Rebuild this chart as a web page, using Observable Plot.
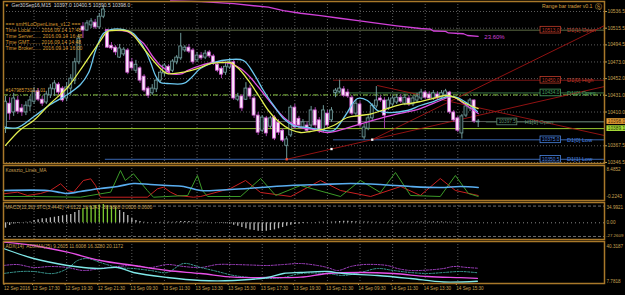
<!DOCTYPE html>
<html><head><meta charset="utf-8">
<script src="https://cdn.jsdelivr.net/npm/d3@7"></script>
<script src="https://cdn.jsdelivr.net/npm/@observablehq/plot@0.6"></script>
<style>
html,body{margin:0;padding:0;background:#000;}
#c{position:relative;width:625px;height:295px;overflow:hidden;background:#000;}
#c svg{position:absolute;left:0;}
</style></head><body><div id="c"></div><script>
// ---------------- DATA ----------------
const symbolHeader = "Ger30Sep16,M15  10397.0 10400.5 10390.5 10398.0";
const infoLines = ["=== smHiLoOpenLines_v1.2 ===","Time Local....... 2016.09.14 17:48","Time Server...... 2016.09.14 16:48","Time GMT........ 2016.09.14 14:48","Time Broker...... 2016.09.14 16:00"];
const orderLabel = "#1479857301 1.01";
const eaLabel = "Range bar trader v0.1";

const open = [10390.5,10420.5,10409.5,10424.5,10414.5,10409.5,10417.0,10423.0,10436.0,10425.5,
10422.0,10431.0,10438.5,10444.5,10439.5,10427.0,10439.5,10449.5,10472.5,10517.5,
10512.5,10519.0,10522.5,10516.5,10530.0,
10513.0,10493.5,10491.0,10478.5,10482.5,10487.5,10472.5,10462.0,10465.0,10454.5,
10439.5,10433.5,10438.5,10449.5,10458.5,10467.0,10462.0,10472.5,10477.5,10487.5,
10491.0,10487.5,10475.0,10481.0,10478.5,10485.0,10480.0,10469.5,10464.5,10459.5,
10466.0,10472.5,10425.5,10429.5,10425.5,10439.5,10427.0,10405.5,10386.5,10402.0,
10391.5,10403.0,10396.5,10386.5,10367.5,10380.5,10415.5,10401.5,10390.5,10393.0,
10393.0,10412.0,10399.5,10386.5,10408.0,10399.5,
10434.0,10435.5,10438.5,10434.5,10428.0,10408.0,10419.5,10378.0,10389.0,10402.0,
10417.0,10427.0,10424.5,10414.5,10419.5,10422.0,10428.0,10420.5,10427.0,10419.5,
10424.5,10427.0,10434.5,10432.0,10427.0,10432.0,10428.0,10431.0,10434.5,10409.5,
10402.0,10383.0,10405.5,10414.5,10424.5,10397.0];
const high = [10429.5,10428.0,10433.5,10429.5,10419.5,10423.0,10429.5,10441.0,10439.5,10429.5,
10436.0,10444.5,10449.5,10447.0,10442.0,10447.0,10457.0,10477.5,10507.5,10522.5,
10525.0,10527.5,10526.5,10534.0,10543.0,
10514.0,10497.5,10493.5,10495.0,10491.0,10490.0,10477.5,10475.0,10467.0,10457.0,
10442.0,10444.5,10452.0,10462.0,10471.0,10469.5,10476.0,10481.0,10509.0,10493.5,
10495.0,10490.0,10485.0,10485.0,10487.5,10487.5,10482.5,10473.5,10467.0,10471.0,
10477.5,10475.0,10433.5,10432.0,10447.0,10443.5,10429.5,10409.5,10405.5,10404.5,
10404.5,10405.5,10400.5,10389.0,10379.0,10418.0,10419.5,10404.5,10400.5,10397.0,
10417.0,10415.5,10403.0,10418.0,10412.0,10415.5,
10439.5,10450.0,10442.0,10438.5,10430.5,10424.5,10423.0,10394.5,10405.5,10420.5,
10442.0,10430.5,10428.0,10428.0,10430.5,10432.0,10432.0,10432.0,10430.5,10430.5,
10433.5,10438.5,10437.0,10435.5,10437.0,10435.5,10437.0,10438.5,10436.0,10412.0,
10404.5,10407.0,10420.5,10427.0,10425.5,10400.5];
const low = [10383.0,10399.5,10404.5,10407.0,10404.5,10405.5,10410.5,10419.5,10423.0,10417.0,
10419.5,10427.0,10429.5,10431.0,10422.0,10423.0,10431.0,10444.5,10469.5,10502.5,
10511.5,10515.0,10514.0,10514.0,10527.5,
10490.0,10487.5,10481.0,10477.5,10480.0,10457.0,10462.0,10458.5,10446.0,10434.5,
10427.0,10431.0,10434.5,10446.0,10454.5,10457.0,10459.5,10469.5,10475.0,10485.0,
10483.5,10469.5,10472.5,10475.0,10476.0,10477.5,10468.5,10459.5,10452.0,10456.0,
10463.5,10424.5,10423.0,10410.5,10424.5,10425.5,10402.0,10380.5,10384.0,10379.0,
10389.0,10374.0,10380.5,10371.5,10350.5,10378.0,10388.0,10389.0,10388.0,10384.0,
10390.5,10389.0,10383.0,10384.0,10389.0,10397.0,
10428.0,10433.5,10428.0,10427.0,10405.5,10404.5,10390.5,10375.0,10386.5,10399.5,
10414.5,10422.0,10389.0,10412.0,10417.0,10419.5,10420.5,10418.0,10417.0,10417.0,
10422.0,10424.5,10425.5,10424.5,10424.5,10425.5,10425.5,10428.0,10407.0,10397.0,
10384.0,10376.0,10403.0,10410.5,10395.5,10390.5];
const close = [10423.0,10408.0,10427.0,10410.5,10409.5,10418.0,10424.5,10436.0,10425.5,10420.5,
10432.0,10439.5,10446.0,10434.5,10424.5,10441.0,10452.0,10472.5,10502.5,10512.5,
10521.5,10524.0,10516.5,10530.0,10539.0,
10491.0,10490.0,10485.0,10490.0,10488.5,10459.5,10465.0,10469.5,10449.5,10437.0,
10430.5,10439.5,10449.5,10459.5,10468.5,10459.5,10473.5,10478.5,10492.5,10491.0,
10486.0,10472.5,10481.0,10477.5,10483.5,10480.0,10471.0,10462.0,10457.0,10467.0,
10472.5,10427.0,10429.5,10414.5,10439.5,10429.5,10405.5,10384.0,10403.0,10383.0,
10402.0,10376.5,10384.0,10374.0,10375.5,10415.5,10390.5,10393.0,10397.0,10386.5,
10412.0,10393.0,10386.5,10412.0,10393.0,10412.0,
10437.0,10439.5,10430.5,10429.5,10408.0,10420.5,10393.0,10390.5,10402.0,10418.0,
10424.5,10424.5,10405.5,10424.5,10427.0,10428.0,10423.0,10428.0,10419.5,10427.0,
10429.5,10434.5,10428.0,10427.0,10433.5,10428.0,10433.5,10436.0,10409.5,10399.5,
10386.5,10404.5,10417.0,10424.5,10398.0,10398.0];

// moving averages: [bar, price]
const maYellow = [[0,10368],[3.7,10388],[6.9,10399.3],[11,10420.7],[15.2,10440.8],[19.1,10468.5],[23.3,10500],[25,10511.3],[26.2,10512.6],[29.4,10512.6],[30.7,10510],[34.3,10487.4],[37.3,10468.5],[39.7,10458.4],[42.9,10459.7],[45.4,10462.2],[47.8,10466],[50.3,10471],[53.2,10472.3],[55.2,10472.3],[57.2,10464.7],[59.6,10449.7],[62.1,10430.8],[64.5,10411.9],[67,10398],[69.9,10388],[72.4,10384.2],[74.8,10385.5],[77.8,10388],[80.5,10393],[83.9,10403.1],[87.1,10405.6],[90,10408.1],[93.7,10414.4],[96.9,10419.4],[99.4,10420.7],[101.8,10423.2],[104.8,10427],[108,10430.8],[110.4,10428.2],[112.9,10420.7],[116,10414.4]];
const maCyan = [[0,10390.5],[3,10390.5],[7,10404.3],[11,10419.4],[15.2,10432],[18.4,10444.6],[20.4,10459.7],[22.1,10487.4],[24,10508.8],[25.8,10513.8],[29,10513.8],[31.4,10508.8],[33.9,10491.2],[35.6,10472.3],[36.8,10455.9],[38,10447.1],[39.7,10445.9],[43.7,10445.9],[45.4,10452.2],[47.8,10464.7],[51,10472.3],[55.2,10476.1],[58.4,10474.8],[60.9,10458.4],[63.3,10437.1],[65.8,10418.2],[68.2,10401.8],[70.7,10393],[74.1,10390.5],[77.3,10388],[80.5,10386.7],[83.4,10405.6],[86.4,10427],[88.8,10424.5],[91.3,10411.9],[93.7,10409.4],[98.6,10411.9],[101.8,10418.2],[105,10423.2],[108.5,10429.5],[110.9,10428.2],[113.4,10420.7],[115.8,10410.6]];
const maMagenta = [[24.5,10512.6],[29.9,10511.3],[31.4,10506.3],[33.9,10496.2],[36.3,10478.6],[38,10468.5],[39.7,10462.2],[40.5,10458.4],[43.4,10458.4],[44.6,10462.2],[47.8,10468.5],[51,10472.3],[55.2,10471],[57.7,10464.7],[60.1,10453.4],[63.3,10433.3],[66.7,10411.9],[69.2,10399.3],[72.4,10390.5],[75.6,10388],[79,10384.2],[83.4,10389.2],[88.3,10396.8],[94.5,10405.6],[101.8,10414.4],[106.7,10424.5],[109.7,10429.5],[112.1,10422],[116,10408.1]];
const fiboLine = [[40.5,10550],[48,10549],[56,10546.3],[64.5,10541.9],[68.2,10537.7],[72.4,10534.3],[77.3,10531.4],[82,10528],[86.5,10525],[91,10522],[96,10518.5],[101.8,10515.1],[104.3,10514.3],[105,10512],[108,10511.5],[108.7,10509.5],[112.4,10508.5],[113.4,10506.3],[116,10505.3]];
const fiboLabel = "23.60%";
const trend1 = [[69,10350.5],[80,10363.4],[90,10375.2],[147,10442.1]];
const trend2 = [[90,10375.2],[147,10518.8]];
const trend3 = [[91.3,10443.3],[147,10380.4]];

// day levels
const dayLevelNames = ["D1[1] Open","D1[0] High","D1[0] Open","D1[0] Low","D1[1] Low"];
const dayLevelValues = [10513.0,10450.0,10434.0,10375.0,10350.5];
const dayLevelStart = [24.5,80.5,80.5,80.5,24.5];
const h1OpenName = "H1[1] Open", h1OpenValue = 10397.5;
const orderLevel = 10431.5;
const bidPrice = 10398.0;
const yellowLevel = 10389.1;

const priceTicks = [10536.5,10515.5,10494.5,10473.0,10452.0,10431.0,10410.0,10367.5,10346.5];
const tickBars = [7,15,23,31,39,47,55,63,71,79,87,95,103,111];
const tickLabels = ["12 Sep 17:30","12 Sep 19:30","12 Sep 21:30","13 Sep 09:30","13 Sep 11:30","13 Sep 13:30","13 Sep 15:30","13 Sep 17:30","13 Sep 19:30","13 Sep 21:30","14 Sep 09:30","14 Sep 11:30","14 Sep 13:30","14 Sep 15:30"];
const firstTickLabel = "12 Sep 2016";

// indicator 1
const ind1Name = "Kosszto_Lines_MA";
const ind1Range = ["8.4852","-0.2243"];
const ind1Blue = [[-0.5,1.81],[10.3,1.81],[13.5,1.23],[15.2,0.94],[18.4,1.52],[23.3,2.39],[27.5,2.97],[31.4,3.84],[35.6,3.55],[39.7,3.26],[43.7,2.97],[47.9,1.81],[55.2,2.1],[62.6,2.68],[69.9,3.26],[77.3,3.55],[84.7,3.84],[92,3.55],[99.4,2.97],[106.7,2.68],[111.7,2.97],[116,2.68]];
const ind1Red = [[-0.5,0.85],[2.9,1.32],[5.4,0.36],[8.6,0.94],[11,1.81],[13.5,3.75],[15.2,1.81],[16.7,1.32],[19.1,4.71],[20.9,5.2],[22.1,3.26],[23.3,-0.14],[34.8,-0.14],[37.3,2.3],[38.8,2.77],[40.5,1.32],[42.2,0.36],[46.1,-0.14],[47.9,0.07],[55.2,2.39],[58.9,4.71],[62.6,1.23],[70,0.07],[77.3,4.71],[82.2,1.81],[89.6,0.07],[97,2.97],[101.8,0.36],[106.7,5.29],[110.4,1.81],[116,0.36]];
const ind1Green = [[-0.5,0.07],[6.9,0.07],[18.4,-0.14],[23.3,0.85],[25.8,1.32],[28.2,7.61],[29.4,4.71],[31.4,6.66],[34.8,1.81],[36.3,-0.14],[44.7,0.36],[47.1,6.16],[48.3,1.81],[49.6,0.07],[57.7,0.07],[62.6,5.29],[66.3,0.36],[72.4,3.26],[82.2,0.07],[87.1,4.71],[92,1.23],[95.7,7.03],[99.4,0.36],[106.7,0.07],[110.4,6.16],[113.6,0.94],[116,0.07]];

// indicator 2 (MACD histogram)
const ind2Name = "MACD(12,26) STC(3,4442) -4.6122 18.6243 -38.8888 0.0000 0.0000";
const ind2Range = ["34.9921","0.00","-27.2609"];
const macdHist = [-9,-4.5,-2,-1,0.5,0.8,1.5,3.9,5,6.7,
6.7,8.4,9.4,10.6,11.8,12.3,14,17.3,20.7,24,
25.7,27.4,29,30,30.7,29,27.4,25.7,20.7,17.3,
12.3,7.2,3.9,2.2,1,0.5,0.3,0.6,0.8,1,
1.2,1,1.5,2,2.2,2,1.5,1.2,1,0.8,
0.5,0.3,-0.5,-1,-1.5,-2,-4,-6,-8,-10,
-12,-13,-14,-14.5,-14,-13,-12,-10,-8,-6,
-4,-3,-2,-1,-0.5,0.3,0.5,0.8,1,1,
1.2,1.5,2,2.5,2.5,2,1.8,1.5,1.5,1.2,
1,1,0.8,0.8,1,1.2,1.2,1,1,1,
1,1.2,1.2,1.5,1.5,1.5,1.5,1.5,1.2,1,
0.8,0.5,0.3,0.5,0.5,0.3,0.2];
const macdLevels = [28.2,-23];

// indicator 3 (ADX)
const ind3Name = "ADX(14)  ADXMA(25) 9.2605 11.6008 16.3280 20.1172";
const ind3Range = ["40.3187","7.7818"];
const adxCyan = [[-0.5,36.56],[6.9,28.22],[15.2,22.38],[19.1,20.71],[23.3,19.88],[27.5,20.71],[31.4,16.54],[39.7,12.37],[47.9,9.87],[56,9.87],[64.3,12.37],[68.2,15.71],[72.4,16.54],[79,17.38],[82.9,15.71],[91.3,14.04],[99.4,11.54],[107.5,8.62],[115.8,9.26]];
const adxMagenta = [[-0.5,41.8],[6.9,39.07],[15.2,33.48],[23.3,26.55],[31.4,22.38],[39.7,18.21],[47.9,15.71],[56,12.62],[64.3,12.37],[72.4,12.62],[79,15.71],[87.1,16.54],[95.2,15.71],[103.6,13.2],[111.7,12.2],[115.8,11.6]];
const adxTeal = [[-0.5,15.71],[3.7,17.38],[6.9,17.38],[11.8,15.71],[15.2,19.88],[17.7,26.55],[20.1,28.22],[23.3,24.88],[27.5,20.71],[31.4,19.88],[35.6,18.21],[39.7,16.54],[43.7,24.05],[47.9,20.71],[52,17.38],[56,14.04],[60.1,12.37],[64.3,11.54],[68.2,12.37],[72.4,15.71],[79,15.71],[82.9,14.04],[87.1,16.54],[91.3,19.88],[95.2,18.21],[99.4,16.54],[103.6,15.71],[107.5,16.54],[111.7,17.38],[115.8,16.33]];
const adxPurple = [[-0.5,22.38],[2.9,23.2],[6.9,20.71],[11,21.55],[15.2,20.71],[19.1,18.21],[23.3,19.88],[27.5,21.55],[31.4,22.38],[35.6,20.71],[39.7,23.2],[43.7,21.55],[47.9,20.71],[52,23.2],[56,23.2],[60.1,22.8],[64.3,22.38],[68.2,23.2],[72.4,24.05],[76.6,22.38],[79,20.71],[81.5,18.21],[84.7,21.55],[87.9,23.2],[93.7,22.38],[96.2,19.88],[99.4,18.21],[103.6,18.6],[107.5,19.88],[110,21.55],[113.4,20.71],[115.8,20.12]];

// ---------------- RENDER ----------------
const FRAME = "#a8782a", TXT = "#c8a050", GRID = "#5c5c5c";
const FONT = "'Liberation Sans', Arial, sans-serif";
const XD = [-0.5, 147];
const XR = [3, 604];
const container = document.getElementById("c");
const pts = a => a.map(([x, y]) => ({x, y}));
const baseStyle = {background: "transparent", color: TXT, fontFamily: FONT, fontSize: "4.8px", overflow: "visible"};
function place(svg, top) { svg.style.top = top + "px"; svg.style.position = "absolute"; svg.style.maxWidth = "none"; container.appendChild(svg); }
const vgrid = Plot.ruleX(tickBars, {stroke: GRID, strokeDasharray: "1,2"});

// main panel
const bars = open.map((o, i) => ({i, o, h: high[i], l: low[i], c: close[i], up: close[i] >= o}));
const levels = dayLevelNames.map((n, k) => ({n, v: dayLevelValues[k], s: dayLevelStart[k], k}));
const levelColor = ["#c03a28", "#c03a28", "#48a060", "#4a84e0", "#4a84e0"];
const levelLine = ["#5c6c44", "#7a1616", "#3c7448", "#3a66b0", "#3a66b0"];
const main = Plot.plot({
  width: 625, height: 164, marginTop: 1, marginBottom: 1, marginLeft: 3, marginRight: 21,
  style: baseStyle,
  x: {domain: XD, range: XR, axis: null},
  y: {domain: [10345.2, 10549.1], axis: "right", ticks: priceTicks, tickFormat: d => d.toFixed(1), tickSize: 2, tickPadding: 1, label: null},
  color: {type: "identity"},
  marks: [
    vgrid,
    Plot.ruleY(priceTicks, {stroke: GRID, strokeDasharray: "1,2"}),
    // horizontal levels
    Plot.ruleY(levels, {y: "v", x1: "s", x2: XD[1], stroke: d => levelLine[d.k], strokeWidth: 1}),
    Plot.ruleY([orderLevel], {stroke: "#84c040", strokeDasharray: "5,2,1,2"}),
    Plot.ruleY([bidPrice], {stroke: "#5a5a5a"}),
    Plot.ruleY([yellowLevel], {stroke: "#9ccc30"}),
    Plot.ruleY([h1OpenValue], {x1: 118, x2: XD[1], stroke: "#4a6a5a"}),
    // trend lines
    Plot.line(pts(trend1), {x: "x", y: "y", stroke: "#a01414", strokeWidth: 0.9}),
    Plot.line(pts(trend2), {x: "x", y: "y", stroke: "#a01414", strokeWidth: 0.9}),
    Plot.line(pts(trend3), {x: "x", y: "y", stroke: "#a01414", strokeWidth: 0.9}),
    // fibo-like magenta line
    Plot.line(pts(fiboLine), {x: "x", y: "y", stroke: "#d040d8", strokeWidth: 1.3}),
    Plot.text([fiboLabel], {x: 117.5, y: 10504, text: d => d, fill: "#d040d8", textAnchor: "start", fontSize: 6}),
    // candles
    Plot.ruleX(bars, {x: "i", y1: "l", y2: "h", stroke: d => d.up ? "#6f9a9a" : "#a040a8", strokeWidth: 1}),
    Plot.rect(bars, {x1: d => d.i - 0.36, x2: d => d.i + 0.36, y1: "o", y2: "c", fill: d => d.up ? "#0c1818" : "#fbe8fb", stroke: d => d.up ? "#74a0a0" : "#d860d8", strokeWidth: 0.8}),
    // moving averages
    Plot.line(pts(maMagenta), {x: "x", y: "y", stroke: "#e050e0", strokeWidth: 1.3, curve: "catmull-rom"}),
    Plot.line(pts(maCyan), {x: "x", y: "y", stroke: "#6cc8f0", strokeWidth: 1.3, curve: "catmull-rom"}),
    Plot.line(pts(maYellow), {x: "x", y: "y", stroke: "#e4f050", strokeWidth: 1.3, curve: "catmull-rom"}),
    // trend markers
    Plot.dot(pts(trend1).slice(0, 3), {x: "x", y: "y", r: 1.3, symbol: "square", fill: (d, k) => k === 0 ? "#ff5030" : "#ffffff", stroke: null}),
    // level boxes
    Plot.rect(levels, {x1: 131.3, x2: 136.3, y1: d => d.v - 4.2, y2: d => d.v + 4.2, fill: "#000", stroke: d => levelColor[d.k], strokeWidth: 0.8}),
    Plot.text(levels, {x: 133.8, y: "v", text: d => d.v.toFixed(1), fill: d => levelColor[d.k], fontSize: 4.8}),
    Plot.text(levels, {x: 137.8, y: "v", text: "n", fill: d => levelColor[d.k], textAnchor: "start", fontSize: 5.6}),
    Plot.rect([h1OpenValue], {x1: 120.7, x2: 125.6, y1: d => d - 4.2, y2: d => d + 4.2, fill: "#000", stroke: "#5e9070", strokeWidth: 0.8}),
    Plot.text([h1OpenValue], {x: 123.15, y: d => d, text: d => d.toFixed(1), fill: "#5e9070", fontSize: 4.8}),
    Plot.text([h1OpenName], {x: 127.4, y: h1OpenValue, text: d => d, fill: "#5e9070", textAnchor: "start", fontSize: 5.6}),
    // price highlight labels on axis
    Plot.rect([bidPrice], {x1: 147.6, x2: 152.2, y1: d => d - 3.6, y2: d => d + 3.6, fill: "#e8a038"}),
    Plot.text([bidPrice], {x: 147.8, y: d => d, text: d => d.toFixed(1), fill: "#402000", textAnchor: "start", fontSize: 4.8}),
    Plot.rect([yellowLevel], {x1: 147.6, x2: 152.2, y1: d => d - 3.6, y2: d => d + 3.6, fill: "#a8dc38"}),
    Plot.text([yellowLevel], {x: 147.8, y: d => d, text: d => d.toFixed(1), fill: "#203000", textAnchor: "start", fontSize: 4.8}),
    // texts
    Plot.text(["\u25BC"], {frameAnchor: "top-left", dx: 1, dy: 2, text: d => d, fill: "#e0a030", fontSize: 4.5}),
    Plot.text([symbolHeader], {frameAnchor: "top-left", dx: 8, dy: 2, text: d => d, fill: "#d8d8d8", fontSize: 5}),
    Plot.text([infoLines.join("\n")], {frameAnchor: "top-left", dx: 2, dy: 20, lineAnchor: "top", lineHeight: 1.18, text: d => d, fill: "#d89a30", fontSize: 5.1}),
    Plot.text([orderLabel], {x: XD[0], y: orderLevel, dx: 2, dy: -4, text: d => d, fill: "#d89a30", textAnchor: "start", fontSize: 4.8}),
    Plot.text([eaLabel], {frameAnchor: "top-right", dx: -12, dy: 3, text: d => d, fill: "#d8a040", textAnchor: "end", fontSize: 5.2}),
    Plot.text(["\u24C8"], {frameAnchor: "top-right", dx: -3, dy: 2.5, text: d => d, fill: "#d8a040", textAnchor: "end", fontSize: 7}),
    Plot.frame({stroke: FRAME, strokeWidth: 1.5})
  ]
});
place(main, 0);

// indicator panel 1
const p1 = Plot.plot({
  width: 625, height: 37, marginTop: 1, marginBottom: 1, marginLeft: 3, marginRight: 21,
  style: baseStyle,
  x: {domain: XD, range: XR, axis: null},
  y: {domain: [-1.095, 9.066], axis: null},
  marks: [
    vgrid,
    Plot.line(pts(ind1Red), {x: "x", y: "y", stroke: "#c82020", strokeWidth: 1}),
    Plot.line(pts(ind1Green), {x: "x", y: "y", stroke: "#3c9a28", strokeWidth: 1}),
    Plot.line(pts(ind1Blue), {x: "x", y: "y", stroke: "#5aaef0", strokeWidth: 1.6, curve: "catmull-rom"}),
    Plot.text([ind1Name], {frameAnchor: "top-left", dx: 2, dy: 3, text: d => d, fill: TXT, fontSize: 4.8}),
    Plot.text([ind1Range[0]], {frameAnchor: "top-right", dx: 2, dy: 2, text: d => d, fill: TXT, textAnchor: "start", fontSize: 4.6}),
    Plot.text([ind1Range[1]], {frameAnchor: "bottom-right", dx: 2, dy: -3, text: d => d, fill: TXT, textAnchor: "start", fontSize: 4.6}),
    Plot.frame({stroke: FRAME, strokeWidth: 1.5})
  ]
});
place(p1, 164);

// indicator panel 2 (MACD)
const hist = macdHist.map((v, i) => ({i, v}));
const p2 = Plot.plot({
  width: 625, height: 39, marginTop: 1, marginBottom: 1, marginLeft: 3, marginRight: 21,
  style: baseStyle,
  x: {domain: XD, range: XR, axis: null},
  y: {domain: [-28.1, 34.2], axis: null},
  color: {type: "identity"},
  marks: [
    vgrid,
    Plot.ruleY(macdLevels, {stroke: "#6a6a6a", strokeDasharray: "3,2"}),
    Plot.ruleY([0], {stroke: "#888", strokeDasharray: "1,3"}),
    Plot.ruleX(hist, {x: "i", y1: 0, y2: "v", stroke: d => d.v > 22 ? "#7ccc30" : "#b8b8b8", strokeWidth: 1.3}),
    Plot.text([ind2Name], {frameAnchor: "top-left", dx: 2, dy: 3, text: d => d, fill: TXT, fontSize: 4.8}),
    Plot.text([ind2Range[0]], {frameAnchor: "top-right", dx: 2, dy: 3, text: d => d, fill: TXT, textAnchor: "start", fontSize: 4.6}),
    Plot.text([ind2Range[1]], {x: XD[1], y: 0, dx: 2, text: d => d, fill: TXT, textAnchor: "start", fontSize: 4.6}),
    Plot.text([ind2Range[2]], {frameAnchor: "bottom-right", dx: 1.5, dy: -3, text: d => d, fill: TXT, textAnchor: "start", fontSize: 4.4}),
    Plot.frame({stroke: FRAME, strokeWidth: 1.5})
  ]
});
place(p2, 201);

// indicator panel 3 (ADX) + time axis
const tickAll = [0, ...tickBars];
const tickText = new Map([[0, firstTickLabel], ...tickBars.map((b, k) => [b, tickLabels[k]])]);
const xAxisMark = typeof Plot.axisX === "function"
  ? Plot.axisX(tickAll, {anchor: "bottom", tickSize: 2, tickPadding: 1, tickFormat: d => tickText.get(d), textAnchor: "start", dx: -1.5, fontSize: 4.6, label: null})
  : Plot.text(tickAll, {x: d => d, frameAnchor: "bottom", dy: 7, text: d => tickText.get(d), textAnchor: "start", fontSize: 4.6});
const p3 = Plot.plot({
  width: 625, height: 55, marginTop: 1, marginBottom: 12, marginLeft: 3, marginRight: 21,
  style: baseStyle,
  x: {domain: XD, range: XR, axis: null},
  y: {domain: [7.37, 42.4], axis: null},
  marks: [
    vgrid,
    Plot.line(pts(adxPurple), {x: "x", y: "y", stroke: "#a040c0", strokeWidth: 1, strokeDasharray: "2,1.5", curve: "catmull-rom"}),
    Plot.line(pts(adxTeal), {x: "x", y: "y", stroke: "#3c9c94", strokeWidth: 1, strokeDasharray: "2,1.5", curve: "catmull-rom"}),
    Plot.line(pts(adxMagenta), {x: "x", y: "y", stroke: "#e850e8", strokeWidth: 1.3, curve: "catmull-rom"}),
    Plot.line(pts(adxCyan), {x: "x", y: "y", stroke: "#80e8e8", strokeWidth: 1.3, curve: "catmull-rom"}),
    Plot.text([ind3Name], {frameAnchor: "top-left", dx: 2, dy: 3, text: d => d, fill: TXT, fontSize: 4.8}),
    Plot.text([ind3Range[0]], {frameAnchor: "top-right", dx: 2, dy: 3, text: d => d, fill: TXT, textAnchor: "start", fontSize: 4.6}),
    Plot.text([ind3Range[1]], {frameAnchor: "bottom-right", dx: 2, dy: -1, text: d => d, fill: TXT, textAnchor: "start", fontSize: 4.6}),
    xAxisMark,
    Plot.frame({stroke: FRAME, strokeWidth: 1.5})
  ]
});
place(p3, 240);
</script></body></html>
